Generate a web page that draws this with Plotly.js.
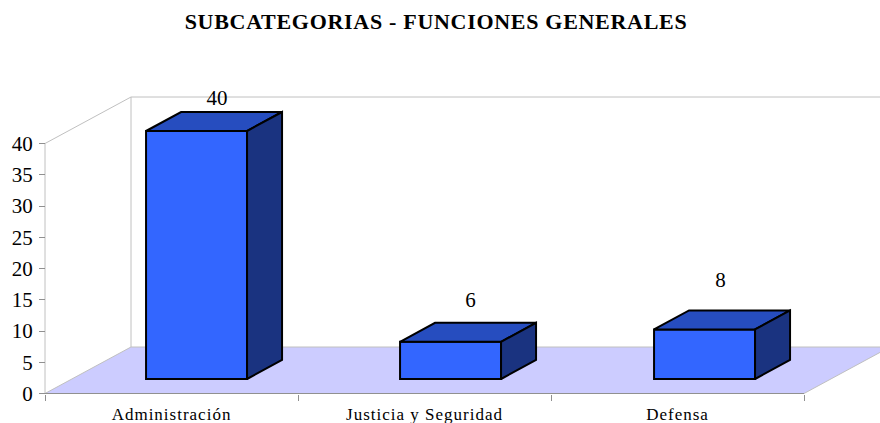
<!DOCTYPE html>
<html><head><meta charset="utf-8">
<script src="https://cdn.plot.ly/plotly-3.0.0.min.js"></script>
<style>html,body{margin:0;padding:0;background:#fff}
.gtitle{letter-spacing:0.7px}
.xtick text{letter-spacing:1px}
</style></head>
<body><div id="chart" style="width:880px;height:423px"></div>
<script>
const categories = ["Administración", "Justicia y Seguridad", "Defensa"];
const values = [40, 6, 8];
const labelNudgeX = [0.002, 0.0, -0.016];
const labelNudgeY = [1.9, 3.4, 4.6];
const yTicks = [0, 5, 10, 15, 20, 25, 30, 35, 40];
const boundaries = [0, 1, 2, 3];

const SERIF = '"Liberation Serif","Times New Roman",serif';
const W = 880, H = 423, L = 30, T = 90, B = 400;
const X0 = 45, CAT = 253, Y0 = 393.5, UNIT = 6.25, BAR0 = 379, BARUNIT = 6.2;
const wallDx = 86 / CAT, wallDy = 46.5 / UNIT;
const barDx = 35 / CAT, barDy = 19 / BARUNIT, barW = 101 / CAT, barShift = 0.099, barStep = 254 / CAT;
const xMax = (W - X0) / CAT;
const axisTop = yTicks[yTicks.length - 1];

const line = (x, y, color, width) => ({x, y, mode: 'lines', line: {color, width}, hoverinfo: 'skip', showlegend: false, type: 'scatter'});
const poly = (x, y, fill, yaxis) => ({x, y, yaxis, mode: 'lines', fill: 'toself', fillcolor: fill, line: {color: '#000', width: 2, shape: 'linear'}, hoverinfo: 'skip', showlegend: false, type: 'scatter'});

const traces = [];
// floor
traces.push({x: [0, wallDx, 3 + wallDx, 3, 0], y: [0, wallDy, wallDy, 0, 0], mode: 'none', fill: 'toself', fillcolor: '#CCCCFF', hoverinfo: 'skip', showlegend: false, type: 'scatter'});
// walls
traces.push(line([0, 0, wallDx, wallDx, 0], [0, axisTop, axisTop + wallDy, wallDy, 0], '#C0C0C0', 1));
traces.push(line([wallDx, xMax + 0.1], [axisTop + wallDy, axisTop + wallDy], '#C0C0C0', 1));
traces.push(line([wallDx, xMax + 0.1], [wallDy, wallDy], '#C0C0C0', 1));
traces.push(line([3, 3 + wallDx], [0, wallDy], '#C0C0C0', 1));
traces.push(line([0, 3], [0, 0], '#909090', 1));

const centers = values.map((_, i) => 0.5 + barShift + i * barStep);
// front faces
traces.push({type: 'bar', x: centers, y: values, yaxis: 'y2', width: barW, marker: {color: '#3366FF', line: {color: '#000', width: 2}}, hoverinfo: 'skip', showlegend: false});
// top and side faces
values.forEach((v, i) => {
  const l = centers[i] - barW / 2, r = centers[i] + barW / 2;
  traces.push(poly([l, l + barDx, r + barDx, r, l], [v, v + barDy, v + barDy, v, v], '#264DBF', 'y2'));
  traces.push(poly([r, r + barDx, r + barDx, r, r], [0, barDy, v + barDy, v, 0], '#1A3380', 'y2'));
});
// data labels
traces.push({type: 'scatter', mode: 'text', yaxis: 'y2', cliponaxis: false,
  x: centers.map((c, i) => c + barDx / 2 + labelNudgeX[i] + 0.01),
  y: values.map((v, i) => v + barDy + labelNudgeY[i]),
  text: values.map(String), textposition: 'middle center',
  textfont: {family: SERIF, size: 21, color: '#000'}, hoverinfo: 'skip', showlegend: false});

const plotW = W - L, plotH = B - T;
const layout = {
  width: W, height: H, paper_bgcolor: '#fff', plot_bgcolor: 'rgba(0,0,0,0)',
  margin: {l: L, r: 0, t: T, b: H - B, pad: 0},
  showlegend: false, barmode: 'overlay',
  title: {text: '<b>SUBCATEGORIAS - FUNCIONES GENERALES</b>', x: 436 / W, xanchor: 'center', y: 1 - 21 / H, yanchor: 'middle', font: {family: SERIF, size: 22, color: '#000'}},
  xaxis: {range: [(L - X0) / CAT, xMax], anchor: 'free', position: (B - Y0) / plotH,
    tickmode: 'array', tickvals: categories.map((_, i) => i + 0.5), ticktext: categories,
    ticks: '', showgrid: false, zeroline: false, showline: false, ticklabelstandoff: 8,
    minor: {tickmode: 'array', tickvals: boundaries, ticks: 'outside', ticklen: 6, tickcolor: '#909090', tickwidth: 1, showgrid: false},
    tickfont: {family: SERIF, size: 17, color: '#000'}, fixedrange: true},
  yaxis: {range: [(Y0 - B) / UNIT, (Y0 - T) / UNIT], anchor: 'free', position: (X0 - L) / plotW,
    tickmode: 'array', tickvals: yTicks, ticks: 'outside', ticklen: 6, tickcolor: '#909090', tickwidth: 1, ticklabelstandoff: 2,
    showgrid: false, zeroline: false, showline: false,
    tickfont: {family: SERIF, size: 21, color: '#000'}, fixedrange: true},
  yaxis2: {range: [(BAR0 - B) / BARUNIT, (BAR0 - T) / BARUNIT], overlaying: 'y', anchor: 'x', visible: false, fixedrange: true}
};
Plotly.newPlot('chart', traces, layout, {displayModeBar: false, staticPlot: true});
</script></body></html>
